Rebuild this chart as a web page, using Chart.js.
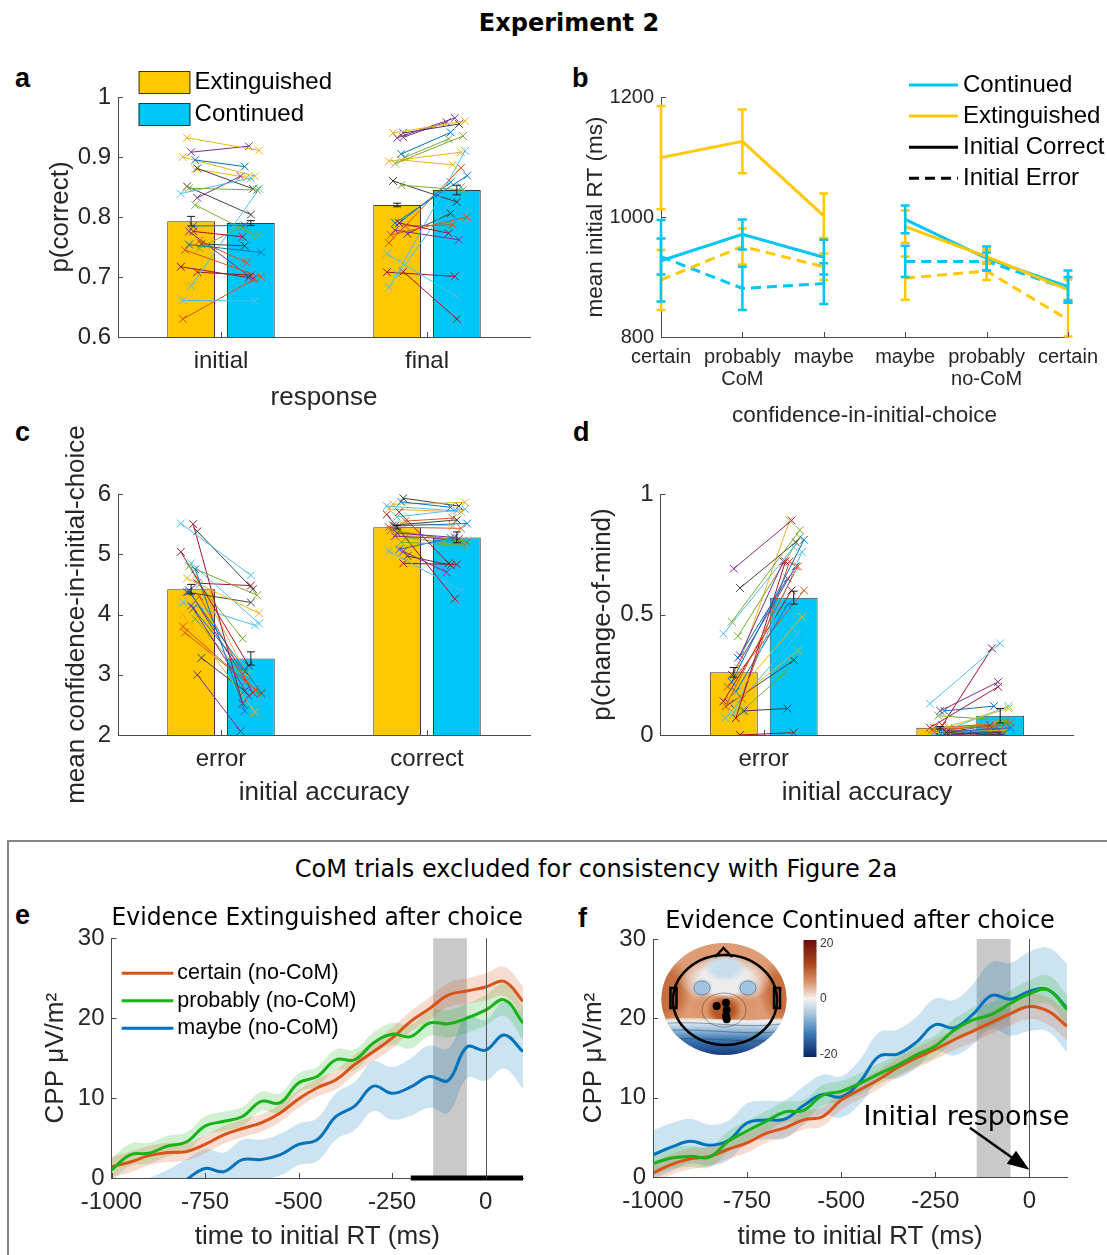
<!DOCTYPE html>
<html lang="en">
<head>
<meta charset="utf-8">
<title>Experiment 2</title>
<script src="https://cdn.jsdelivr.net/npm/chart.js@4.4.1/dist/chart.umd.min.js"></script>
<style>
    html, body { margin: 0; padding: 0; background: #fff; }
    #figure { position: relative; width: 1107px; height: 1255px; overflow: hidden; background: #fff; }
    #figure canvas { position: absolute; }
    .txt { position: absolute; line-height: 1; white-space: nowrap; color: #000; }
    .letter { font-family: 'Liberation Sans', Arial, sans-serif; font-weight: bold; font-size: 27px; }
    #mainTitle { left: 469px; top: 11px; width: 200px; text-align: center; font-family: 'DejaVu Sans', sans-serif; font-weight: bold; font-size: 24px; }
    #eegHeader { left: 246px; top: 857px; width: 700px; text-align: center; font-family: 'DejaVu Sans', sans-serif; font-size: 24px; }
    #eegFrame { position: absolute; left: 7px; top: 840px; width: 1120px; height: 440px; border-top: 2px solid #858585; border-left: 2px solid #858585; }
</style>
</head>
<body>
<div id="figure">
    <div id="eegFrame"></div>
    <div class="txt" id="mainTitle">Experiment 2</div>
    <div class="txt" id="eegHeader">CoM trials excluded for consistency with Figure 2a</div>
    <div class="txt letter" style="left:15px;top:65px">a</div>
    <div class="txt letter" style="left:572px;top:65px">b</div>
    <div class="txt letter" style="left:15px;top:419px">c</div>
    <div class="txt letter" style="left:573px;top:419px">d</div>
    <div class="txt letter" style="left:15px;top:902px">e</div>
    <div class="txt letter" style="left:578px;top:905px">f</div>
</div>
<script>
// ---- panel a: p(correct) by response ----
const responseLabels = ['initial', 'final'];
const pCorrectExt = [0.793, 0.820];
const pCorrectExtSem = [0.008, 0.003];
const pCorrectCont = [0.790, 0.845];
const pCorrectContSem = [0.004, 0.008];
const pCorrectTicks = [0.6, 0.7, 0.8, 0.9, 1];
const aInitialExt = [0.895, 0.630, 0.932, 0.908, 0.848, 0.839, 0.776, 0.881, 0.754, 0.760, 0.900, 0.832, 0.820, 0.685, 0.717, 0.851, 0.785, 0.745, 0.880, 0.776, 0.748, 0.661, 0.708, 0.755];
const aInitialCont = [0.884, 0.697, 0.911, 0.918, 0.845, 0.865, 0.767, 0.847, 0.741, 0.724, 0.868, 0.868, 0.768, 0.847, 0.699, 0.804, 0.786, 0.700, 0.866, 0.697, 0.785, 0.660, 0.703, 0.752];
const aFinalExt = [0.905, 0.757, 0.940, 0.932, 0.889, 0.739, 0.790, 0.940, 0.790, 0.785, 0.893, 0.933, 0.853, 0.705, 0.708, 0.860, 0.790, 0.770, 0.895, 0.778, 0.900, 0.683, 0.709, 0.772];
const aFinalCont = [0.941, 0.882, 0.960, 0.965, 0.935, 0.667, 0.773, 0.955, 0.869, 0.787, 0.908, 0.958, 0.845, 0.910, 0.701, 0.825, 0.858, 0.800, 0.887, 0.762, 0.930, 0.850, 0.630, 0.806];

// ---- panel b: mean initial RT by confidence ----
const confidenceLabels = ['certain', ['probably', 'CoM'], 'maybe', 'maybe', ['probably', 'no-CoM'], 'certain'];
const rtExtCorrect = [1099, 1126, 1002, 984, 934, 879];
const rtExtCorrectSem = [86, 53, 37, 27, 12, 17];
const rtExtError = [895, 951, 917, 898, 910, 829];
const rtExtErrorSem = [50, 30, 22, 36, 15, 28];
const rtContCorrect = [927, 971, 933, 996, 931, 884];
const rtContCorrectSem = [68, 25, 29, 23, 20, 27];
const rtContError = [934, 881, 889, 926, 926, 880];
const rtContErrorSem = [30, 36, 34, 26, 15, 20];
const rtTicks = [800, 1000, 1200];

// ---- panel c: confidence by initial accuracy ----
const accuracyLabels = ['error', 'correct'];
const confidenceExt = [4.42, 5.45];
const confidenceExtSem = [0.08, 0.03];
const confidenceCont = [3.27, 5.28];
const confidenceContSem = [0.11, 0.09];
const confidenceTicks = [2, 3, 4, 5, 6];
const cErrorExt = [4.75, 3.80, 4.60, 4.15, 4.80, 5.51, 5.50, 5.38, 4.38, 4.30, 4.00, 3.00, 3.93, 4.85, 5.04, 4.37, 4.10, 3.70, 4.65, 4.40, 4.50, 4.20, 4.52, 3.28];
const cErrorCont = [2.40, 2.75, 4.02, 2.65, 4.32, 4.65, 2.52, 4.42, 2.70, 2.90, 2.38, 2.06, 2.70, 3.85, 3.15, 4.20, 3.05, 2.68, 3.00, 2.70, 3.60, 3.82, 4.48, 2.73];
const cCorrectExt = [5.87, 5.45, 5.83, 5.35, 5.38, 5.80, 5.70, 5.93, 5.47, 5.55, 5.75, 5.05, 5.20, 5.62, 5.66, 5.48, 5.08, 5.40, 5.52, 5.30, 5.28, 5.05, 4.85, 4.97];
const cCorrectCont = [5.78, 5.43, 5.86, 5.28, 5.22, 5.72, 4.85, 5.80, 5.51, 5.60, 5.70, 4.70, 5.15, 5.75, 4.26, 5.57, 5.27, 5.20, 5.47, 5.25, 5.18, 4.40, 4.83, 4.82];

// ---- panel d: p(change-of-mind) by initial accuracy ----
const comExt = [0.26, 0.03];
const comExtSem = [0.02, 0.005];
const comCont = [0.57, 0.08];
const comContSem = [0.027, 0.03];
const comTicks = [0, 0.5, 1];
const dErrorExt = [0.32, 0.12, 0.14, 0.69, 0.47, 0.42, 0.07, 0.61, 0.22, 0.15, 0.11, 0.33, 0.41, 0.09, 0.14, 0.13, 0.18, 0.20, 0.28, 0.25, 0.10, 0.07, 0.00, 0.10];
const dErrorCont = [0.65, 0.70, 0.49, 0.89, 0.85, 0.78, 0.72, 0.80, 0.81, 0.72, 0.35, 0.72, 0.82, 0.76, 0.60, 0.31, 0.54, 0.60, 0.89, 0.70, 0.26, 0.42, 0.01, 0.11];
const dCorrectExt = [0.10, 0.02, 0.02, 0.10, 0.08, 0.13, 0.04, 0.01, 0.01, 0.01, 0.01, 0.01, 0.02, 0.01, 0.03, 0.02, 0.00, 0.03, 0.03, 0.00, 0.03, 0.00, 0.00, 0.00];
const dCorrectCont = [0.12, 0.04, 0.11, 0.22, 0.06, 0.38, 0.36, 0.00, 0.03, 0.03, 0.02, 0.04, 0.05, 0.12, 0.20, 0.01, 0.02, 0.05, 0.05, 0.01, 0.04, 0.03, 0.00, 0.02];

// horizontal scatter of each subject's marker around its bar (group units)
const jitterExt = [0.02, -0.04, -0.02, 0.00, -0.01, -0.05, 0.01, 0.03, -0.01, 0.04, -0.04, 0.03, 0.02, 0.00, -0.05, -0.02, 0.01, -0.03, 0.02, -0.01, 0.04, -0.04, 0.03, 0.05];
const jitterCont = [-0.03, 0.02, 0.04, -0.01, 0.03, 0.00, -0.04, 0.01, 0.05, -0.02, 0.02, -0.05, 0.03, 0.04, -0.01, 0.00, -0.03, 0.05, -0.02, 0.01, -0.04, 0.02, 0.00, -0.03];

// ---- panels e, f: CPP waveforms ----
const timeMs = [-1000, -950, -900, -850, -800, -750, -700, -650, -600, -550, -500, -450, -400, -350, -300, -250, -200, -150, -100, -50, 0, 50, 100];
const timeTicks = [-1000, -750, -500, -250, 0];
const cppTicks = [0, 10, 20, 30];
const shadeWindowMs = [-140, -50];
const sigWindowExt = [-200, 100];
const eCertain = [1.4, 2.0, 2.8, 3.2, 3.3, 4.2, 5.4, 6.2, 6.9, 8.1, 9.9, 11.3, 12.3, 14.2, 15.8, 17.5, 19.6, 21.2, 22.9, 23.4, 23.9, 24.6, 22.1];
const eCertainSem = [1.3, 1.3, 1.2, 1.2, 1.1, 1.1, 1.1, 1.1, 1.1, 1.1, 1.1, 1.1, 1.2, 1.2, 1.2, 1.3, 1.3, 1.4, 1.5, 1.6, 1.7, 1.8, 1.9];
const eProbably = [1.0, 2.9, 3.1, 4.0, 4.5, 6.5, 7.1, 7.7, 9.6, 9.4, 11.9, 12.7, 14.8, 14.8, 16.9, 18.0, 17.7, 19.4, 19.3, 20.0, 21.0, 22.3, 19.4];
const eProbablySem = [1.4, 1.4, 1.3, 1.3, 1.2, 1.2, 1.2, 1.2, 1.2, 1.2, 1.2, 1.2, 1.3, 1.3, 1.3, 1.4, 1.5, 1.6, 1.7, 1.8, 1.9, 2.0, 2.1];
const eMaybe = [-4.5, -3.5, -2.5, -1.5, -0.2, 1.2, 0.8, 2.3, 2.3, 2.9, 4.2, 4.8, 7.7, 9.0, 11.5, 10.6, 11.4, 12.7, 12.2, 16.4, 16.0, 17.9, 15.8];
const eMaybeSem = [2.5, 2.5, 2.5, 2.5, 2.5, 2.4, 2.4, 2.5, 2.5, 2.6, 2.6, 2.7, 2.9, 3.0, 3.1, 3.3, 3.6, 3.9, 4.0, 3.9, 3.8, 4.2, 4.6];
const fCertain = [0.5, 1.6, 2.3, 2.6, 3.5, 4.3, 5.5, 6.2, 7.2, 7.6, 9.7, 11.0, 12.3, 13.8, 15.0, 16.1, 17.3, 18.4, 19.5, 20.6, 21.5, 20.9, 19.0];
const fCertainSem = [1.3, 1.3, 1.3, 1.2, 1.2, 1.2, 1.2, 1.2, 1.2, 1.2, 1.2, 1.2, 1.2, 1.2, 1.3, 1.3, 1.3, 1.4, 1.4, 1.5, 1.6, 1.7, 1.8];
const fProbably = [1.7, 2.4, 2.6, 2.5, 4.5, 5.8, 7.0, 8.2, 8.4, 10.3, 10.8, 11.8, 13.0, 14.1, 15.4, 16.5, 18.5, 19.8, 20.5, 21.9, 23.1, 23.6, 21.1];
const fProbablySem = [1.4, 1.4, 1.3, 1.3, 1.3, 1.3, 1.3, 1.3, 1.3, 1.3, 1.3, 1.3, 1.3, 1.3, 1.4, 1.4, 1.4, 1.5, 1.5, 1.6, 1.7, 1.8, 1.9];
const fMaybe = [2.8, 3.8, 4.5, 4.0, 4.6, 6.8, 7.2, 7.3, 9.0, 10.4, 10.1, 12.0, 15.2, 15.5, 17.0, 19.2, 18.8, 20.5, 22.9, 22.4, 23.4, 23.6, 21.3];
const fMaybeSem = [3.1, 3.0, 2.8, 2.6, 2.5, 2.5, 2.4, 2.4, 2.4, 2.5, 2.6, 2.8, 3.0, 3.1, 3.2, 3.3, 3.5, 3.8, 4.2, 4.6, 5.0, 5.3, 5.6];

const SANS = "'Liberation Sans', Arial, sans-serif";
const DEJAVU = "'DejaVu Sans', Verdana, sans-serif";
const AXIS_COLOR = '#4a4a4a';
const TEXT_COLOR = '#262626';
const EXT_COLOR = '#FFC800';
const CONT_COLOR = '#00C5F7';
const BAR_OFFSET = 0.145;
const BAR_FILL = 0.8;
const subjectColors = ['#0072BD', '#D95319', '#EDB120', '#7E2F8E', '#77AC30', '#4DBEEE', '#A2142F', '#404040'];

function makeCanvas(id, box) {
    const canvas = document.createElement('canvas');
    canvas.id = id;
    canvas.width = box.width;
    canvas.height = box.height;
    canvas.style.left = box.left + 'px';
    canvas.style.top = box.top + 'px';
    canvas.style.width = box.width + 'px';
    canvas.style.height = box.height + 'px';
    document.getElementById('figure').appendChild(canvas);
    return canvas;
}

// work out layout padding and axis sizes so the plot area lands where it should
function frameLayout(box, area, yTitle, xTitle, title) {
    const scaleLeft = yTitle.center - yTitle.size * 0.6;
    const scaleBottom = xTitle.center + xTitle.size * 0.6;
    const frame = {
        padding: {
            left: scaleLeft - box.left,
            right: box.left + box.width - area.right,
            top: title ? 0 : area.top - box.top,
            bottom: box.top + box.height - scaleBottom,
        },
        yWidth: area.left - scaleLeft,
        xHeight: scaleBottom - area.bottom,
    };
    if (title) {
        const half = title.size * 0.6;
        frame.titlePadding = { top: title.center - half - box.top, bottom: area.top - title.center - half };
    }
    return frame;
}

function axisTitle(t) {
    return { display: true, text: t.text, color: TEXT_COLOR, padding: 0, font: { family: SANS, size: t.size } };
}

function valueAxis(frame, title, tickValues, tickSize) {
    return {
        type: 'linear',
        position: 'left',
        min: tickValues[0],
        max: tickValues[tickValues.length - 1],
        afterFit: (scale) => { scale.width = frame.yWidth; },
        afterBuildTicks: (scale) => { scale.ticks = tickValues.map((v) => ({ value: v })); },
        grid: { display: false, drawTicks: false },
        border: { display: true, color: AXIS_COLOR, width: 1 },
        ticks: { color: TEXT_COLOR, padding: 7, font: { family: SANS, size: tickSize }, callback: (v) => String(+v.toFixed(2)) },
        title: axisTitle(title),
    };
}

// linear axis with one tick per group, labelled with the group names
function groupAxis(frame, title, labels) {
    return {
        type: 'linear',
        position: 'bottom',
        offset: false,
        min: 0.5,
        max: labels.length + 0.5,
        afterFit: (scale) => { scale.height = frame.xHeight; },
        afterBuildTicks: (scale) => { scale.ticks = labels.map((l, i) => ({ value: i + 1 })); },
        grid: { display: false, drawTicks: false, offset: false },
        border: { display: true, color: AXIS_COLOR, width: 1 },
        ticks: { color: TEXT_COLOR, padding: 10, maxRotation: 0, font: { family: SANS, size: 24 }, callback: (v) => labels[Math.round(v) - 1] },
        title: axisTitle(title),
    };
}

function categoryAxis(frame, title, opts) {
    return {
        type: 'category',
        position: 'bottom',
        offset: opts.offset,
        afterFit: (scale) => { scale.height = frame.xHeight; },
        grid: { display: false, drawTicks: false },
        border: { display: true, color: AXIS_COLOR, width: 1 },
        ticks: { color: TEXT_COLOR, padding: opts.pad, maxRotation: 0, autoSkip: false, font: { family: SANS, size: opts.size, lineHeight: opts.lineHeight || 1.2 } },
        title: axisTitle(title),
    };
}

function timeAxis(frame, title) {
    return {
        type: 'linear',
        position: 'bottom',
        min: timeMs[0],
        max: timeMs[timeMs.length - 1],
        afterFit: (scale) => { scale.height = frame.xHeight; },
        afterBuildTicks: (scale) => { scale.ticks = timeTicks.map((v) => ({ value: v })); },
        grid: { display: false, drawTicks: false },
        border: { display: true, color: AXIS_COLOR, width: 1 },
        ticks: { color: TEXT_COLOR, padding: 10, font: { family: SANS, size: 24 }, callback: (v) => String(v) },
        title: axisTitle(title),
    };
}

function baseOptions(frame, pluginOptions) {
    return {
        responsive: false,
        animation: false,
        devicePixelRatio: 1,
        events: [],
        layout: { padding: frame.padding },
        plugins: Object.assign({ legend: { display: false }, tooltip: { enabled: false }, title: { display: false } }, pluginOptions || {}),
    };
}

// MATLAB-style tick marks pointing into the plot
const inwardTicks = {
    id: 'inwardTicks',
    afterDraw(chart) {
        const { ctx, chartArea } = chart;
        ctx.save();
        ctx.strokeStyle = AXIS_COLOR;
        ctx.lineWidth = 1;
        ctx.beginPath();
        chart.scales.x.ticks.forEach((t, i) => {
            const px = Math.round(chart.scales.x.getPixelForTick(i)) + 0.5;
            ctx.moveTo(px, chartArea.bottom);
            ctx.lineTo(px, chartArea.bottom - 5);
        });
        chart.scales.y.ticks.forEach((t, i) => {
            const py = Math.round(chart.scales.y.getPixelForTick(i)) + 0.5;
            ctx.moveTo(chartArea.left, py);
            ctx.lineTo(chartArea.left + 5, py);
        });
        ctx.stroke();
        ctx.restore();
    },
};

const errorBars = {
    id: 'errorBars',
    afterDatasetsDraw(chart) {
        const { ctx } = chart;
        const yScale = chart.scales.y;
        chart.data.datasets.forEach((ds, i) => {
            if (!ds.errorBars) {
                return;
            }
            const meta = chart.getDatasetMeta(i);
            const cap = ds.errorBarCap || 4;
            ctx.save();
            ctx.strokeStyle = ds.errorBarColor || ds.borderColor;
            ctx.lineWidth = ds.errorBarWidth || 1;
            ctx.setLineDash([]);
            ctx.beginPath();
            meta.data.forEach((el, j) => {
                const raw = ds.data[j];
                const value = raw !== null && typeof raw === 'object' ? raw.y : raw;
                if (value === null || value === undefined) {
                    return;
                }
                const top = yScale.getPixelForValue(value + ds.errorBars[j]);
                const bottom = yScale.getPixelForValue(value - ds.errorBars[j]);
                ctx.moveTo(el.x, top);
                ctx.lineTo(el.x, bottom);
                ctx.moveTo(el.x - cap, top);
                ctx.lineTo(el.x + cap, top);
                ctx.moveTo(el.x - cap, bottom);
                ctx.lineTo(el.x + cap, bottom);
            });
            ctx.stroke();
            ctx.restore();
        });
    },
};

const panelLegend = {
    id: 'panelLegend',
    afterDraw(chart, args, opts) {
        if (!opts.items) {
            return;
        }
        const { ctx } = chart;
        ctx.save();
        ctx.font = `${opts.fontSize}px ${SANS}`;
        ctx.textBaseline = 'middle';
        opts.items.forEach((item, k) => {
            const y = opts.y + k * opts.rowGap;
            if (item.box) {
                ctx.fillStyle = item.color;
                ctx.fillRect(opts.x, y - opts.boxHeight / 2, opts.sampleWidth, opts.boxHeight);
                ctx.strokeStyle = '#333';
                ctx.lineWidth = 1;
                ctx.strokeRect(opts.x + 0.5, y - opts.boxHeight / 2 + 0.5, opts.sampleWidth - 1, opts.boxHeight - 1);
            } else {
                ctx.strokeStyle = item.color;
                ctx.lineWidth = opts.lineWidth;
                ctx.setLineDash(item.dash || []);
                ctx.beginPath();
                ctx.moveTo(opts.x, y);
                ctx.lineTo(opts.x + opts.sampleWidth, y);
                ctx.stroke();
                ctx.setLineDash([]);
            }
            ctx.fillStyle = '#000';
            ctx.fillText(item.label, opts.x + opts.sampleWidth + opts.gap, y);
        });
        ctx.restore();
    },
};

const epochMarks = {
    id: 'epochMarks',
    beforeDatasetsDraw(chart, args, opts) {
        const { ctx, chartArea, scales } = chart;
        const left = scales.x.getPixelForValue(opts.shade[0]);
        const right = scales.x.getPixelForValue(opts.shade[1]);
        ctx.save();
        ctx.fillStyle = '#C9C9C9';
        ctx.fillRect(left, chartArea.top, right - left, chartArea.bottom - chartArea.top);
        ctx.restore();
    },
    afterDatasetsDraw(chart, args, opts) {
        const { ctx, chartArea, scales } = chart;
        const zero = Math.round(scales.x.getPixelForValue(0)) + 0.5;
        ctx.save();
        ctx.strokeStyle = '#555';
        ctx.lineWidth = 1;
        ctx.beginPath();
        ctx.moveTo(zero, chartArea.top);
        ctx.lineTo(zero, chartArea.bottom);
        ctx.stroke();
        if (opts.sig) {
            ctx.strokeStyle = '#000';
            ctx.lineWidth = 5;
            ctx.beginPath();
            ctx.moveTo(scales.x.getPixelForValue(opts.sig[0]), scales.y.getPixelForValue(0));
            ctx.lineTo(scales.x.getPixelForValue(opts.sig[1]), scales.y.getPixelForValue(0));
            ctx.stroke();
        }
        ctx.restore();
    },
};

// arrow and label pointing at the initial response in panel f
const responseNote = {
    id: 'responseNote',
    afterDatasetsDraw(chart, args, opts) {
        if (!opts.text) {
            return;
        }
        const { ctx, scales } = chart;
        const x0 = scales.x.getPixelForValue(opts.from[0]);
        const y0 = scales.y.getPixelForValue(opts.from[1]);
        const x1 = scales.x.getPixelForValue(opts.to[0]);
        const y1 = scales.y.getPixelForValue(opts.to[1]);
        const angle = Math.atan2(y1 - y0, x1 - x0);
        ctx.save();
        ctx.strokeStyle = '#000';
        ctx.fillStyle = '#000';
        ctx.lineWidth = 2.5;
        ctx.beginPath();
        ctx.moveTo(x0, y0);
        ctx.lineTo(x1 - 18 * Math.cos(angle), y1 - 18 * Math.sin(angle));
        ctx.stroke();
        ctx.beginPath();
        ctx.moveTo(x1, y1);
        ctx.lineTo(x1 - 22 * Math.cos(angle) + 8 * Math.sin(angle), y1 - 22 * Math.sin(angle) - 8 * Math.cos(angle));
        ctx.lineTo(x1 - 22 * Math.cos(angle) - 8 * Math.sin(angle), y1 - 22 * Math.sin(angle) + 8 * Math.cos(angle));
        ctx.closePath();
        ctx.fill();
        ctx.font = `27px ${DEJAVU}`;
        ctx.textBaseline = 'alphabetic';
        ctx.fillText(opts.text, scales.x.getPixelForValue(opts.at[0]), scales.y.getPixelForValue(opts.at[1]));
        ctx.restore();
    },
};

// scalp map inset with its colour bar (panel f)
const scalpInset = {
    id: 'scalpInset',
    afterDraw(chart, args, opts) {
        if (!opts.show) {
            return;
        }
        const { ctx } = chart;
        const cx = 164, cy = 119;
        ctx.save();
        ctx.beginPath();
        ctx.ellipse(cx, cy, 62.5, 56, 0, 0, Math.PI * 2);
        ctx.clip();
        ctx.fillStyle = '#DE9C74';
        ctx.fillRect(cx - 70, cy - 60, 140, 120);
        const blob = (x, y, rx, ry, colour) => {
            ctx.save();
            ctx.translate(x, y);
            ctx.scale(1, ry / rx);
            const g = ctx.createRadialGradient(0, 0, 0, 0, 0, rx);
            g.addColorStop(0, colour);
            g.addColorStop(0.55, colour);
            g.addColorStop(1, colour.replace(/[\d.]+\)$/, '0)'));
            ctx.fillStyle = g;
            ctx.fillRect(-rx, -rx, 2 * rx, 2 * rx);
            ctx.restore();
        };
        blob(106, 112, 26, 34, 'rgba(196,108,60,0.95)');
        blob(224, 112, 26, 34, 'rgba(196,108,60,0.95)');
        blob(165, 100, 46, 26, 'rgba(238,236,236,1)');
        blob(165, 88, 22, 14, 'rgba(200,222,238,1)');
        blob(142, 108, 11, 10, 'rgba(160,196,226,1)');
        blob(188, 108, 11, 10, 'rgba(160,196,226,1)');
        blob(150, 128, 22, 16, 'rgba(222,150,108,1)');
        blob(180, 128, 22, 16, 'rgba(222,150,108,1)');
        blob(164, 130, 18, 16, 'rgba(180,86,38,1)');
        const low = ctx.createLinearGradient(0, cy + 14, 0, cy + 56);
        low.addColorStop(0, 'rgba(236,232,230,0)');
        low.addColorStop(0.2, 'rgba(238,240,244,1)');
        low.addColorStop(0.38, 'rgba(160,196,226,1)');
        low.addColorStop(0.62, 'rgba(62,122,182,1)');
        low.addColorStop(1, 'rgba(22,60,128,1)');
        ctx.fillStyle = low;
        ctx.beginPath();
        ctx.moveTo(cx - 70, cy + 22);
        ctx.bezierCurveTo(cx - 35, cy + 14, cx + 10, cy + 26, cx + 70, cy + 18);
        ctx.lineTo(cx + 70, cy + 60);
        ctx.lineTo(cx - 70, cy + 60);
        ctx.closePath();
        ctx.fill();
        ctx.strokeStyle = 'rgba(60,60,60,0.6)';
        ctx.lineWidth = 0.8;
        ctx.beginPath();
        ctx.ellipse(164, 130, 22, 17, 0, 0, Math.PI * 2);
        ctx.moveTo(150, 108);
        ctx.ellipse(142, 108, 8, 7, 0, 0, Math.PI * 2);
        ctx.moveTo(196, 108);
        ctx.ellipse(188, 108, 8, 7, 0, 0, Math.PI * 2);
        ctx.moveTo(cx - 70, cy + 26);
        ctx.bezierCurveTo(cx - 30, cy + 18, cx + 30, cy + 34, cx + 70, cy + 22);
        ctx.moveTo(cx - 70, cy + 33);
        ctx.bezierCurveTo(cx - 30, cy + 26, cx + 30, cy + 40, cx + 70, cy + 30);
        ctx.moveTo(cx - 70, cy + 41);
        ctx.bezierCurveTo(cx - 30, cy + 36, cx + 30, cy + 46, cx + 70, cy + 40);
        ctx.stroke();
        ctx.restore();

        ctx.save();
        ctx.strokeStyle = '#000';
        ctx.lineWidth = 2.5;
        ctx.beginPath();
        ctx.ellipse(165, 120, 52, 45, 0, 0, Math.PI * 2);
        ctx.stroke();
        ctx.beginPath();
        ctx.moveTo(155, 77);
        ctx.lineTo(163.5, 68);
        ctx.lineTo(172, 77);
        ctx.stroke();
        ctx.strokeRect(110.5, 108, 6, 20);
        ctx.strokeRect(214, 108, 6, 20);
        ctx.fillStyle = '#000';
        [[156.7, 126], [166, 122.7], [166.7, 130], [166, 136], [166.7, 139.3]].forEach(([x, y]) => {
            ctx.beginPath();
            ctx.arc(x, y, 4, 0, Math.PI * 2);
            ctx.fill();
        });
        const bar = ctx.createLinearGradient(0, 60, 0, 177);
        bar.addColorStop(0, '#6b0d0d');
        bar.addColorStop(0.2, '#a8451c');
        bar.addColorStop(0.36, '#d8946a');
        bar.addColorStop(0.5, '#f4f1ee');
        bar.addColorStop(0.63, '#a9c7e0');
        bar.addColorStop(0.8, '#3d7ab5');
        bar.addColorStop(1, '#0a2463');
        ctx.fillStyle = bar;
        ctx.fillRect(243.5, 60, 13, 117);
        ctx.fillStyle = '#333';
        ctx.font = `12px ${SANS}`;
        ctx.textBaseline = 'middle';
        ctx.fillText('20', 260, 64);
        ctx.fillText('0', 260, 119);
        ctx.fillText('-20', 260, 175);
        ctx.restore();
    },
};

function barDataset(label, values, sem, colour, side) {
    return {
        type: 'bar',
        label,
        data: values.map((v, g) => ({ x: g + 1 + side * BAR_OFFSET, y: v })),
        errorBars: sem,
        errorBarColor: '#1a1a1a',
        errorBarWidth: 1,
        errorBarCap: 4,
        backgroundColor: colour,
        borderColor: '#3a3a3a',
        borderWidth: 1,
        grouped: false,
        categoryPercentage: 1,
        barPercentage: BAR_FILL,
        order: 3,
    };
}

function buildBarPanel(id, spec) {
    const frame = frameLayout(spec.box, spec.area, spec.yTitle, spec.xTitle);
    const datasets = [
        barDataset('Extinguished', spec.ext, spec.extSem, EXT_COLOR, -1),
        barDataset('Continued', spec.cont, spec.contSem, CONT_COLOR, 1),
    ];
    spec.groups.forEach((group, g) => {
        group.ext.forEach((value, i) => {
            const colour = subjectColors[i % subjectColors.length];
            datasets.push({
                type: 'line',
                order: 1,
                data: [
                    { x: g + 1 - BAR_OFFSET + jitterExt[i], y: value },
                    { x: g + 1 + BAR_OFFSET + jitterCont[i], y: group.cont[i] },
                ],
                borderColor: colour,
                backgroundColor: colour,
                borderWidth: 1,
                pointStyle: 'crossRot',
                pointRadius: 5.5,
                pointBorderWidth: 1,
            });
        });
    });
    const options = baseOptions(frame, { panelLegend: spec.legend || {} });
    options.scales = {
        x: groupAxis(frame, spec.xTitle, spec.labels),
        y: valueAxis(frame, spec.yTitle, spec.ticks, 24),
    };
    return new Chart(makeCanvas(id, spec.box), {
        type: 'bar',
        data: { datasets },
        options,
        plugins: [inwardTicks, errorBars, panelLegend],
    });
}

function rtDataset(values, sem, colour, dashed, part) {
    // split the six confidence levels into the CoM and no-CoM halves
    const data = values.map((v, i) => ((i < 3) === (part === 0) ? v : null));
    return {
        data,
        errorBars: sem,
        errorBarWidth: 2.5,
        errorBarCap: 4.5,
        borderColor: colour,
        borderWidth: 3,
        borderDash: dashed ? [10, 6] : [],
        pointRadius: 0,
        spanGaps: false,
        fill: false,
    };
}

function buildRtPanel() {
    const box = { left: 560, top: 60, width: 547, height: 370 };
    const area = { left: 661, right: 1073, top: 97, bottom: 337 };
    const yTitle = { text: 'mean initial RT (ms)', size: 22.5, center: 596 };
    const xTitle = { text: 'confidence-in-initial-choice', size: 22.5, center: 416 };
    const frame = frameLayout(box, area, yTitle, xTitle);
    const datasets = [];
    [0, 1].forEach((part) => {
        datasets.push(
            rtDataset(rtExtCorrect, rtExtCorrectSem, EXT_COLOR, false, part),
            rtDataset(rtExtError, rtExtErrorSem, EXT_COLOR, true, part),
            rtDataset(rtContCorrect, rtContCorrectSem, CONT_COLOR, false, part),
            rtDataset(rtContError, rtContErrorSem, CONT_COLOR, true, part),
        );
    });
    const options = baseOptions(frame, {
        panelLegend: {
            x: 349, y: 25, rowGap: 31.1, sampleWidth: 49, gap: 5, fontSize: 24, lineWidth: 3,
            items: [
                { label: 'Continued', color: CONT_COLOR },
                { label: 'Extinguished', color: EXT_COLOR },
                { label: 'Initial Correct', color: '#000' },
                { label: 'Initial Error', color: '#000', dash: [10, 6] },
            ],
        },
    });
    options.scales = {
        x: categoryAxis(frame, xTitle, { offset: false, size: 20, pad: 9, lineHeight: 1.12 }),
        y: valueAxis(frame, yTitle, rtTicks, 20),
    };
    options.scales.y.ticks.callback = (v) => String(v);
    return new Chart(makeCanvas('panelB', box), {
        type: 'line',
        data: { labels: confidenceLabels, datasets },
        options,
        plugins: [inwardTicks, errorBars, panelLegend],
    });
}

function buildCppPanel(id, spec) {
    const frame = frameLayout(spec.box, spec.area, spec.yTitle, spec.xTitle, spec.title);
    const datasets = [];
    spec.curves.forEach((curve) => {
        datasets.push(
            {
                data: timeMs.map((t, i) => ({ x: t, y: curve.mean[i] + curve.sem[i] })),
                borderWidth: 0, borderColor: 'rgba(0,0,0,0)', pointRadius: 0, tension: 0.4,
                fill: '+1', backgroundColor: curve.shade, order: 10,
            },
            {
                data: timeMs.map((t, i) => ({ x: t, y: curve.mean[i] - curve.sem[i] })),
                borderWidth: 0, borderColor: 'rgba(0,0,0,0)', pointRadius: 0, tension: 0.4,
                fill: false, order: 10,
            },
        );
    });
    spec.curves.forEach((curve) => {
        datasets.push({
            label: curve.label,
            data: timeMs.map((t, i) => ({ x: t, y: curve.mean[i] })),
            borderColor: curve.color,
            borderWidth: 3,
            pointRadius: 0,
            tension: 0.4,
            fill: false,
            order: curve.order,
        });
    });
    const options = baseOptions(frame, {
        title: {
            display: true,
            text: spec.title.text,
            color: '#000',
            fullSize: false,
            padding: frame.titlePadding,
            font: { family: DEJAVU, size: spec.title.size, weight: 'normal' },
        },
        panelLegend: spec.legend || {},
        epochMarks: { shade: shadeWindowMs, sig: spec.sig },
        responseNote: spec.note || {},
        scalpInset: { show: !!spec.inset },
    });
    options.scales = {
        x: timeAxis(frame, spec.xTitle),
        y: valueAxis(frame, spec.yTitle, cppTicks, 24),
    };
    return new Chart(makeCanvas(id, spec.box), {
        type: 'line',
        data: { datasets },
        options,
        plugins: [epochMarks, inwardTicks, panelLegend, responseNote, scalpInset],
    });
}

function bootstrapFigure() {
    buildBarPanel('panelA', {
        box: { left: 0, top: 60, width: 560, height: 370 },
        area: { left: 118, right: 530, top: 97, bottom: 337 },
        yTitle: { text: 'p(correct)', size: 26, center: 61 },
        xTitle: { text: 'response', size: 26, center: 398.3 },
        labels: responseLabels,
        ticks: pCorrectTicks,
        ext: pCorrectExt, extSem: pCorrectExtSem,
        cont: pCorrectCont, contSem: pCorrectContSem,
        groups: [{ ext: aInitialExt, cont: aInitialCont }, { ext: aFinalExt, cont: aFinalCont }],
        legend: {
            x: 138.6, y: 22.5, rowGap: 32, sampleWidth: 51.8, boxHeight: 23, gap: 4.2, fontSize: 24,
            items: [
                { label: 'Extinguished', color: EXT_COLOR, box: true },
                { label: 'Continued', color: CONT_COLOR, box: true },
            ],
        },
    });

    buildRtPanel();

    buildBarPanel('panelC', {
        box: { left: 0, top: 420, width: 560, height: 410 },
        area: { left: 118, right: 530, top: 494, bottom: 735 },
        yTitle: { text: 'mean confidence-in-initial-choice', size: 26, center: 76.8 },
        xTitle: { text: 'initial accuracy', size: 26, center: 793.3 },
        labels: accuracyLabels,
        ticks: confidenceTicks,
        ext: confidenceExt, extSem: confidenceExtSem,
        cont: confidenceCont, contSem: confidenceContSem,
        groups: [{ ext: cErrorExt, cont: cErrorCont }, { ext: cCorrectExt, cont: cCorrectCont }],
    });

    buildBarPanel('panelD', {
        box: { left: 560, top: 420, width: 547, height: 410 },
        area: { left: 660.5, right: 1073.5, top: 494, bottom: 735 },
        yTitle: { text: 'p(change-of-mind)', size: 26, center: 602.7 },
        xTitle: { text: 'initial accuracy', size: 26, center: 793.3 },
        labels: accuracyLabels,
        ticks: comTicks,
        ext: comExt, extSem: comExtSem,
        cont: comCont, contSem: comContSem,
        groups: [{ ext: dErrorExt, cont: dErrorCont }, { ext: dCorrectExt, cont: dCorrectCont }],
    });

    const cppCurves = (certain, certainSem, probably, probablySem, maybe, maybeSem) => [
        { label: 'certain (no-CoM)', mean: certain, sem: certainSem, color: '#D95319', shade: 'rgba(217,83,25,0.2)', order: 1 },
        { label: 'probably (no-CoM)', mean: probably, sem: probablySem, color: '#17B217', shade: 'rgba(23,178,23,0.2)', order: 0 },
        { label: 'maybe (no-CoM)', mean: maybe, sem: maybeSem, color: '#0072BD', shade: 'rgba(0,114,189,0.2)', order: 2 },
    ];

    buildCppPanel('panelE', {
        box: { left: 0, top: 880, width: 560, height: 375 },
        area: { left: 111.5, right: 523, top: 938.3, bottom: 1178 },
        title: { text: 'Evidence Extinguished after choice', size: 24, center: 918.3 },
        yTitle: { text: 'CPP μV/m²', size: 26, center: 56 },
        xTitle: { text: 'time to initial RT (ms)', size: 26, center: 1236.7 },
        curves: cppCurves(eCertain, eCertainSem, eProbably, eProbablySem, eMaybe, eMaybeSem),
        sig: sigWindowExt,
        legend: {
            x: 121.7, y: 93.3, rowGap: 27.5, sampleWidth: 51.6, gap: 4, fontSize: 21.5, lineWidth: 3,
            items: [
                { label: 'certain (no-CoM)', color: '#D95319' },
                { label: 'probably (no-CoM)', color: '#17B217' },
                { label: 'maybe (no-CoM)', color: '#0072BD' },
            ],
        },
    });

    buildCppPanel('panelF', {
        box: { left: 560, top: 880, width: 547, height: 375 },
        area: { left: 653, right: 1067, top: 939, bottom: 1177 },
        title: { text: 'Evidence Continued after choice', size: 24, center: 921.7 },
        yTitle: { text: 'CPP μV/m²', size: 26, center: 594 },
        xTitle: { text: 'time to initial RT (ms)', size: 26, center: 1236.7 },
        curves: cppCurves(fCertain, fCertainSem, fProbably, fProbablySem, fMaybe, fMaybeSem),
        sig: null,
        note: { text: 'Initial response', at: [-441, 6.6], from: [-158, 6.2], to: [0, 0.9] },
        inset: true,
    });
}

document.addEventListener('DOMContentLoaded', bootstrapFigure);
</script>
</body>
</html>
